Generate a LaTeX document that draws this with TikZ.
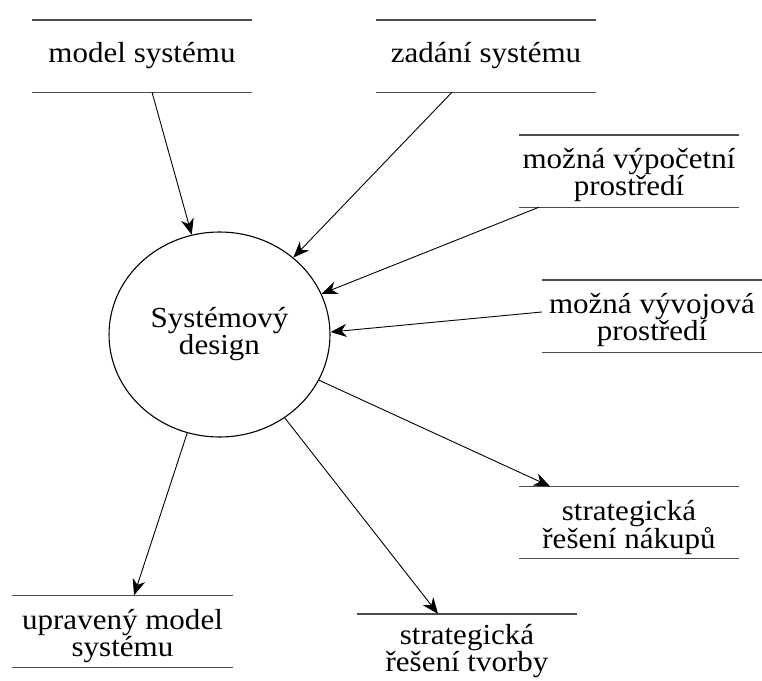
\documentclass[tikz,border=0pt]{standalone}
\usepackage{fontspec}
\setmainfont{Liberation Serif}
\usetikzlibrary{shapes.geometric,arrows.meta}

\begin{document}
\begin{tikzpicture}[x=1pt,y=-1pt,
  txt/.style={font=\fontsize{29}{27}\selectfont, align=center, inner sep=0pt,
    xscale=1.07},
  frame/.style={minimum width=220pt, minimum height=72pt, inner sep=0pt},
  storeline/.style={draw=black!70, line width=1.4pt},
  process/.style={txt, ellipse, draw, line width=1.1pt,
    minimum width=206.5pt, minimum height=205pt},
  flow/.style={draw, line width=0.9pt,
    -{Stealth[length=16pt, width=13pt, inset=5pt]}}]

\useasboundingbox (0,0) rectangle (762,680);

% central process
\node[process] (c) at (219.5,334.5) {Systémový\\design};

% data store frames (the rules above and below each store)
\node[frame] (m) at (142,56)      {};
\node[frame] (z) at (486,56)      {};
\node[frame] (p) at (629,171)     {};
\node[frame] (v) at (652,316)     {};
\node[frame] (n) at (629,522.5)   {};
\node[frame] (t) at (467,650)     {};
\node[frame] (u) at (122.5,631.5) {};

% data store names
\node[txt] (mt) at (m.center)             {model systému};
\node[txt] (zt) at (z.center)             {zadání systému};
\node[txt] (pt) at ([yshift=-4pt]p.center) {možná výpočetní\\prostředí};
\node[txt] (vt) at ([yshift=-4pt]v.center) {možná vývojová\\prostředí};
\node[txt] (nt) at ([yshift=-5pt]n.center) {strategická\\řešení nákupů};
\node[txt] (tt) at ([yshift=-1pt]t.center) {strategická\\řešení tvorby};
\node[txt] (ut) at ([yshift=-5pt]u.center) {upravený model\\systému};

\foreach \s in {m,z,p,v,n,u}
  \draw[storeline] (\s.north west) -- (\s.north east)
                   (\s.south west) -- (\s.south east);
\draw[storeline] (t.north west) -- (t.north east);

% inputs
\draw[flow] ([xshift=10pt]m.south) -- (c);
\draw[flow] ([xshift=-34pt]z.south) -- (c);
\draw[flow] ([xshift=-90pt]p.south) -- (c);
\draw[flow] ([yshift=4pt]v.west) -- ([yshift=2.5pt]c.east);

% outputs
\draw[flow] (c) -- ([xshift=-79pt]n.north);
\draw[flow] (c) -- ([xshift=-29pt]t.north);
\draw[flow] (c) -- ([xshift=11.5pt]u.north);

\end{tikzpicture}
\end{document}
